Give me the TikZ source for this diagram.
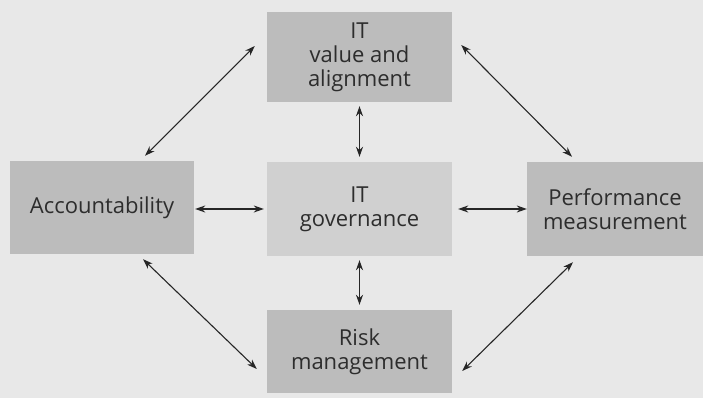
\documentclass[tikz,border=0pt]{standalone}
\usepackage{fontspec}
\setmainfont{Open Sans}
\usetikzlibrary{arrows.meta}
\definecolor{paper}{RGB}{232,232,232}
\definecolor{boxgrey}{RGB}{188,188,188}
\definecolor{coregrey}{RGB}{208,208,208}
\definecolor{ink}{RGB}{45,45,45}
\begin{document}
\begin{tikzpicture}[x=1pt,y=1pt,
  area/.style={fill=boxgrey, draw=none, text=ink, align=center,
    font=\fontsize{22}{24}\selectfont, inner sep=0pt},
  core/.style={area, fill=coregrey},
  link/.style={draw=ink!85!black, line width=1.1pt,
    {Stealth[length=10pt,width=7pt]}-{Stealth[length=10pt,width=7pt]}}]
  % page and background
  \fill[paper] (0,0) rectangle (703,398);
  \useasboundingbox (0,0) rectangle (703,398);

  % the five areas
  \node[area, minimum width=185pt, minimum height=90pt] (value) at (359.5,341) {IT\\value and\\alignment};
  \node[area, minimum width=184pt, minimum height=93pt] (acct) at (102,190.5) {Accountability};
  \node[core, minimum width=185pt, minimum height=94pt] (gov) at (359.5,189) {IT\\governance};
  \node[area, minimum width=176pt, minimum height=94pt] (perf) at (615,189) {Performance\\measurement};
  \node[area, minimum width=185pt, minimum height=83pt] (risk) at (359.5,46.5) {Risk\\management};

  % links to the centre
  \draw[link] ([yshift=-4pt]value.south) -- ([yshift=5pt]gov.north);
  \draw[link] ([yshift=-4pt]gov.south) -- ([yshift=5pt]risk.north);
  \draw[link] ([xshift=1pt]acct.east |- gov.west) -- ([xshift=-3pt]gov.west);
  \draw[link] ([xshift=6pt]gov.east) -- (perf.west);

  % links around the ring
  \draw[link] ([shift={(-12pt,11pt)}]value.west) -- ([shift={(43pt,5pt)}]acct.north);
  \draw[link] ([shift={(9pt,12pt)}]value.east) -- ([shift={(-43pt,5pt)}]perf.north);
  \draw[link] ([shift={(41pt,-5pt)}]acct.south) -- ([shift={(-10pt,-17.5pt)}]risk.west);
  \draw[link] ([shift={(-42pt,-6pt)}]perf.south) -- ([shift={(10pt,-19.5pt)}]risk.east);
\end{tikzpicture}
\end{document}
